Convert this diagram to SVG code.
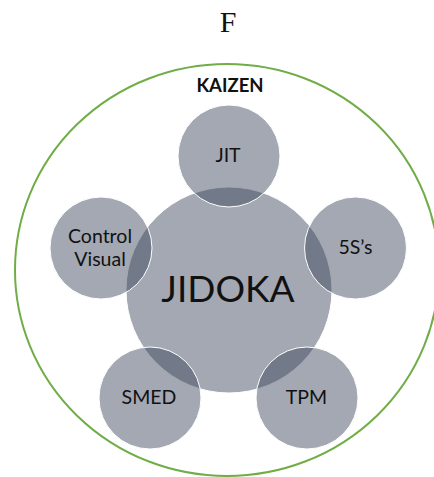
<svg xmlns="http://www.w3.org/2000/svg" width="434" height="477" viewBox="0 0 434 477">
<style>
.c{fill:#3b475c;fill-opacity:0.47;stroke:#ffffff;stroke-width:1}
.t{font-family:Lato,"Open Sans",sans-serif;fill:#111;text-anchor:middle}
.s{font-size:19.5px}
</style>
<rect width="434" height="477" fill="#fff"/>
<text x="228" y="32" font-family="Liberation Serif,serif" font-size="30" text-anchor="middle" fill="#111">F</text>
<g id="kaizen">
<ellipse cx="227" cy="270" rx="212" ry="206" fill="none" stroke="#70ad47" stroke-width="2"/>
<text class="t" x="230" y="92" font-size="18.5" font-weight="bold">KAIZEN</text>
</g>
<g id="jidoka"><circle class="c" cx="229" cy="290" r="103"/></g>
<g id="jit"><circle class="c" cx="229" cy="156" r="51"/></g>
<g id="s5"><circle class="c" cx="355.5" cy="248" r="51"/></g>
<g id="tpm"><circle class="c" cx="307" cy="398" r="51"/></g>
<g id="smed"><circle class="c" cx="150" cy="398" r="51"/></g>
<g id="cv"><circle class="c" cx="101" cy="248" r="51"/></g>
<g id="labels">
<text class="t" x="228" y="302" font-size="37">JIDOKA</text>
<text class="t s" x="228" y="162">JIT</text>
<text class="t s" x="355.5" y="254">5S’s</text>
<text class="t s" x="306.5" y="404">TPM</text>
<text class="t s" x="149" y="404">SMED</text>
<text class="t s" x="100" y="243">Control</text>
<text class="t s" x="100" y="266">Visual</text>
</g>
<g id="connectors"/>
</svg>
